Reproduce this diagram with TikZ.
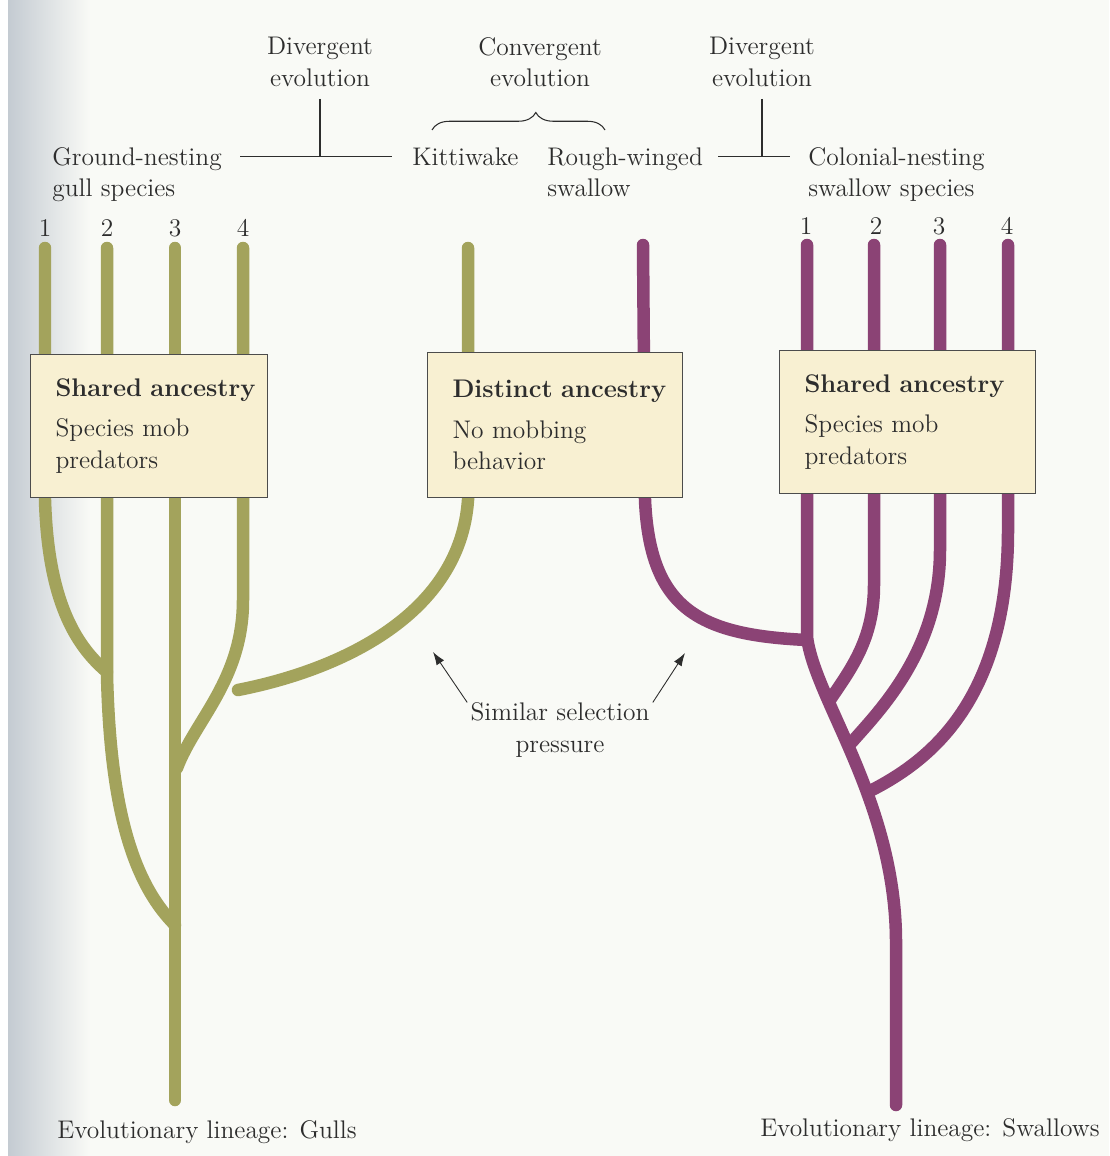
\documentclass[tikz,border=0pt]{standalone}
\usepackage{fontspec}
\usepackage{tikz}
\usetikzlibrary{positioning, arrows.meta, calc, decorations.pathreplacing}

\definecolor{paper}{RGB}{249,250,246}
\definecolor{edgegray}{RGB}{196,203,210}
\definecolor{inkgray}{RGB}{45,45,45}
\definecolor{gullolive}{RGB}{163,163,92}
\definecolor{swallowplum}{RGB}{139,67,117}
\definecolor{boxcream}{RGB}{248,240,210}

\tikzset{
  lineage/.style={line width=0.25cm, line cap=round},
  gull/.style={lineage, draw=gullolive},
  swallow/.style={lineage, draw=swallowplum},
  toptext/.style={inner sep=0pt, text=inkgray, font=\fontsize{14.5}{18}\selectfont},
  traitbox/.style={draw=black!70, fill=boxcream, line width=0.6pt, anchor=north west,
    inner xsep=0.5cm, inner ysep=0pt, align=left, text=inkgray,
    font=\fontsize{14.5}{18}\selectfont},
  pointer/.style={draw=inkgray, line width=0.5pt, -{Latex[length=2.6mm, width=1.8mm]}}
}

\begin{document}
\begin{tikzpicture}[x=0.02cm, y=-0.02cm]
  \useasboundingbox (0,0) rectangle (1109,1156);
  \fill[paper] (0,0) rectangle (1109,1156);
  \shade[left color=edgegray, right color=paper] (8,0) rectangle (90,1156);
  \fill[white] (0,0) rectangle (8,1156);

  % gull lineage
  \draw[gull] (175,248) -- (175,1100);
  \draw[gull] (45,248) -- (45,500) .. controls (48,600) and (75,645) .. (107,672);
  \draw[gull] (107,248) -- (107,675) .. controls (110,800) and (130,880) .. (175,925);
  \draw[gull] (243,248) -- (243,600) .. controls (243,680) and (195,720) .. (177,768);
  \draw[gull] (468,248) -- (468,500) .. controls (460,615) and (340,670) .. (238,690);

  % swallow lineage
  \draw[swallow] (807,245) -- (807,637) .. controls (815,700) and (895,800) .. (896,940) -- (896,1105);
  \draw[swallow] (643,245) -- (645,500) .. controls (650,610) and (700,635) .. (807,640);
  \draw[swallow] (874,245) -- (874,585) .. controls (874,640) and (850,670) .. (830,700);
  \draw[swallow] (940,245) -- (940,550) .. controls (940,650) and (880,710) .. (852,742);
  \draw[swallow] (1008,245) -- (1008,530) .. controls (1008,700) and (930,760) .. (872,790);

  % boxes
  \node[traitbox, text width=3.74cm, minimum height=2.86cm] (gullbox) at (30,354)
    {\mbox{\textbf{Shared ancestry}}\\[5pt]Species mob\\predators};
  \node[traitbox, text width=4.1cm, minimum height=2.9cm] (kittibox) at (427,352)
    {\mbox{\textbf{Distinct ancestry}}\\[5pt]No mobbing\\behavior};
  \node[traitbox, text width=4.12cm, minimum height=2.86cm] (swalbox) at (779,350)
    {\mbox{\textbf{Shared ancestry}}\\[5pt]Species mob\\predators};

  % species numbers
  \foreach \x/\n in {45/1, 107/2, 175/3, 243/4}
    \node[toptext] (gulln\n) at (\x,228) {\n};
  \foreach \x/\n in {806/1, 876/2, 939/3, 1007/4}
    \node[toptext] (swaln\n) at (\x,226) {\n};

  % top labels
  \node[toptext, align=center] (divgull) at (320,62) {Divergent\\evolution};
  \node[toptext, align=center] (conv) at (540,62) {Convergent\\evolution};
  \node[toptext, align=center] (divswal) at (762,62) {Divergent\\evolution};
  \node[toptext, anchor=north west, align=left] (ground) at (52,147) {Ground-nesting\\gull species};
  \node[toptext, anchor=base west] (kitti) at (412,165) {Kittiwake};
  \node[toptext, anchor=north west, align=left] (rough) at (547,147) {Rough-winged\\swallow};
  \node[toptext, anchor=north west, align=left] (colonial) at (808,147) {Colonial-nesting\\swallow species};

  \draw[inkgray, line width=0.6pt] ($(ground.east |- kitti.west)+(18,0)$) -- ($(kitti.west)+(-20,0)$);
  \draw[inkgray, line width=0.6pt] ($(divgull.south)+(0,12)$) -- (divgull.south |- kitti.west);
  \draw[inkgray, line width=0.6pt] ($(rough.east |- kitti.west)+(15,0)$) -- ($(colonial.west |- kitti.west)+(-18,0)$);
  \draw[inkgray, line width=0.6pt] ($(divswal.south)+(0,12)$) -- (divswal.south |- kitti.west);
  \draw[inkgray, line width=0.6pt, decorate, decoration={brace, amplitude=0.35cm, aspect=0.6}]
    (432,130) -- (605,130);

  % selection pressure
  \node[toptext, align=center] (sim) at (560,730) {Similar selection\\pressure};
  \coordinate (gullpress) at (433,652);
  \coordinate (swalpress) at (685,653);
  \draw[pointer] ($(sim.north west)+(-3,0)$) -- (gullpress);
  \draw[pointer] ($(sim.north east)+(3,0)$) -- (swalpress);

  % lineage captions
  \node[toptext, anchor=west] (gullline) at (57,1132) {Evolutionary lineage: Gulls};
  \node[toptext, anchor=east] (swalline) at (1100,1130) {Evolutionary lineage: Swallows};
\end{tikzpicture}
\end{document}
